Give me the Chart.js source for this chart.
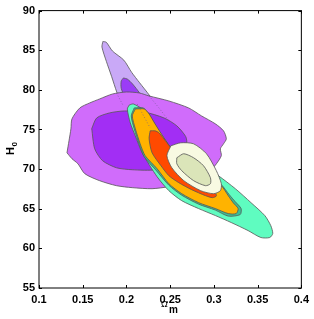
<!DOCTYPE html>
<html>
<head>
<meta charset="utf-8">
<script src="https://cdn.jsdelivr.net/npm/chart.js@4.4.0/dist/chart.umd.min.js"></script>
<style>
  html, body { margin: 0; padding: 0; background: #fff; }
</style>
</head>
<body>
<canvas id="myChart" width="314" height="319"></canvas>
<script>
(function () {
  'use strict'

// axis ticks
var xTicks = [0.1, 0.15, 0.2, 0.25, 0.3, 0.35, 0.4]
var xTickLabels = ['0.1', '0.15', '0.2', '0.25', '0.3', '0.35', '0.4']
var yTicks = [55, 60, 65, 70, 75, 80, 85, 90]

// contour outlines [Omega_m, H0]
var tailOuter = [
  [0.173, 86.1], [0.177, 86.0], [0.184, 84.9], [0.197, 83.75], [0.206, 82.2],
  [0.215, 80.9], [0.226, 79.35], [0.237, 77.6], [0.246, 75.8], [0.237, 74.8],
  [0.215, 75.5], [0.198, 77.3], [0.189, 79.7], [0.183, 81.7], [0.177, 83.6], [0.172, 85.4]
]
var tailInner = [
  [0.1965, 81.5], [0.201, 81.36], [0.207, 80.74], [0.215, 79.6], [0.22, 78.6],
  [0.209, 78.0], [0.198, 79.2], [0.194, 80.2], [0.194, 81.1]
]
// hidden part of the tail, drawn dotted
var tailRightHidden = [[0.2259, 79.23], [0.2372, 77.72], [0.2485, 76.08]]
var tailLeftHidden = [[0.1886, 79.6], [0.1965, 77.97]]
var tailMidHidden = [[0.2123, 78.22], [0.2271, 75.2]]

var blobOuter = [
  [0.132, 72.06], [0.1343, 73.57], [0.1365, 75.08], [0.1377, 76.34], [0.1467, 77.72],
  [0.158, 78.35], [0.1693, 78.85], [0.1841, 79.48], [0.200, 79.73], [0.2146, 79.61],
  [0.2259, 79.23], [0.2485, 78.6], [0.2711, 77.72], [0.2859, 76.71], [0.3017, 75.71],
  [0.311, 74.83], [0.3142, 73.82], [0.311, 73.19], [0.3074, 72.56], [0.3085, 71.7],
  [0.3029, 70.68], [0.2961, 69.8], [0.2882, 69.17], [0.2711, 68.29], [0.2485, 67.78],
  [0.2293, 67.53], [0.2067, 67.66], [0.1886, 67.91], [0.1693, 68.54], [0.1524, 69.42],
  [0.1445, 70.68], [0.1377, 71.31]
]
var blobInner = [
  [0.1603, 75.1], [0.166, 76.46], [0.1807, 77.09], [0.1976, 77.34], [0.2203, 77.2],
  [0.2429, 76.46], [0.2576, 75.46], [0.2678, 74.1], [0.2689, 73.19], [0.2632, 72.06],
  [0.2485, 70.68], [0.2338, 69.92], [0.2067, 69.92], [0.1886, 70.17], [0.1727, 71.06],
  [0.1637, 72.56]
]
var greenOuter = [
  [0.2033, 78.1], [0.2079, 78.22], [0.218, 77.59], [0.2248, 76.84], [0.2305, 75.83],
  [0.2395, 74.32], [0.2497, 72.81], [0.2825, 70.8], [0.3051, 69.17], [0.3245, 67.53],
  [0.3424, 65.77], [0.3582, 64.14], [0.365, 62.88], [0.3673, 61.88], [0.3639, 61.37],
  [0.3537, 61.37], [0.339, 62.25], [0.3198, 63.26], [0.3017, 64.14], [0.2825, 65.02],
  [0.2632, 66.02], [0.2485, 67.28], [0.235, 69.04], [0.218, 72.06], [0.2101, 74.2],
  [0.2044, 75.83], [0.201, 77.59]
]
var tealBand = [
  [0.2089, 77.72], [0.2191, 77.72], [0.2248, 77.09], [0.2316, 75.83], [0.2418, 74.07],
  [0.2531, 72.44], [0.2825, 70.55], [0.2995, 68.67], [0.3085, 68.04], [0.3175, 66.78],
  [0.3243, 65.9], [0.3311, 65.02], [0.33, 64.26], [0.3164, 64.07], [0.3017, 64.83],
  [0.2825, 65.58], [0.2632, 66.71], [0.2485, 67.97], [0.2338, 69.86], [0.2203, 71.56],
  [0.2146, 73.13], [0.2089, 75.08], [0.2055, 76.71]
]
var orangeOuter = [
  [0.2102, 77.59], [0.2203, 77.59], [0.2259, 76.96], [0.2327, 75.71], [0.2429, 73.95],
  [0.2542, 72.31], [0.2825, 70.42], [0.2995, 68.54], [0.3085, 67.91], [0.3164, 66.65],
  [0.322, 65.77], [0.3277, 65.02], [0.3254, 64.39], [0.3164, 64.39], [0.3017, 65.02],
  [0.2825, 65.77], [0.2632, 66.9], [0.2485, 68.16], [0.235, 70.05], [0.2214, 71.69],
  [0.2157, 73.19], [0.2102, 75.08], [0.2067, 76.71]
]
var redInner = [
  [0.2271, 74.83], [0.2327, 74.83], [0.2372, 74.58], [0.2463, 73.32], [0.2519, 72.56],
  [0.2768, 70.42], [0.2961, 68.29], [0.3029, 66.65], [0.2984, 66.4], [0.2904, 66.65],
  [0.2745, 67.41], [0.2598, 68.29], [0.2485, 69.17], [0.2395, 70.42], [0.2293, 72.06],
  [0.2259, 73.82]
]
var creamOuter = [
  [0.2508, 72.94], [0.2621, 73.32], [0.2768, 73.19], [0.2915, 71.94], [0.3028, 69.8],
  [0.3085, 68.16], [0.3074, 67.28], [0.2995, 66.9], [0.2849, 67.28], [0.2656, 68.54],
  [0.2519, 70.17], [0.2463, 71.69]
]
var paleInner = [
  [0.2576, 71.43], [0.2655, 71.94], [0.2768, 71.43], [0.2881, 70.43], [0.296, 68.92],
  [0.296, 68.16], [0.2904, 67.91], [0.2768, 68.54], [0.2632, 69.8], [0.2576, 70.68]
]

function toXY(arr) {
  return arr.map(function (p) { return { x: p[0], y: p[1] } })
}

function shape(arr, color, order) {
  var pts = toXY(arr)
  pts.push({ x: arr[0][0], y: arr[0][1] })
  return {
    data: pts,
    backgroundColor: color,
    borderColor: '#555',
    borderWidth: 0.8,
    fill: 'shape',
    tension: 0.25,
    pointRadius: 0,
    order: order
  }
}

function dotted(arr, order) {
  return {
    data: toXY(arr),
    borderColor: 'rgba(110,90,140,0.8)',
    borderWidth: 0.8,
    borderDash: [1, 2],
    fill: false,
    pointRadius: 0,
    order: order
  }
}

// frame with inward ticks + axis titles
var frame = {
  id: 'frame',
  afterDraw: function (chart) {
    var ctx = chart.ctx, a = chart.chartArea
    var xs = chart.scales.x, ys = chart.scales.y
    ctx.save()
    ctx.strokeStyle = '#000'
    ctx.lineWidth = 1
    ctx.strokeRect(a.left, a.top, a.right - a.left, a.bottom - a.top)
    ctx.beginPath()
    xTicks.forEach(function (v) {
      var px = Math.round(xs.getPixelForValue(v)) + 0.5
      ctx.moveTo(px, a.bottom); ctx.lineTo(px, a.bottom - 3)
      ctx.moveTo(px, a.top); ctx.lineTo(px, a.top + 3)
    })
    yTicks.forEach(function (v) {
      var py = Math.round(ys.getPixelForValue(v)) + 0.5
      ctx.moveTo(a.left, py); ctx.lineTo(a.left + 3, py)
      ctx.moveTo(a.right, py); ctx.lineTo(a.right - 3, py)
    })
    ctx.stroke()

    ctx.fillStyle = '#000'
    ctx.textBaseline = 'alphabetic'
    // H0
    ctx.save()
    ctx.translate(14, 155)
    ctx.rotate(-Math.PI / 2)
    ctx.font = 'bold 11px "Liberation Sans", Arial, sans-serif'
    ctx.fillText('H', 0, 0)
    ctx.font = 'bold 8px "Liberation Sans", Arial, sans-serif'
    ctx.fillText('0', 8.5, 3)
    ctx.restore()
    // Omega_m
    ctx.font = '9px "Liberation Sans", Arial, sans-serif'
    ctx.fillText('\u03A9', 161, 307)
    ctx.font = 'bold 10px "Liberation Sans", Arial, sans-serif'
    ctx.fillText('m', 169, 313)
    ctx.restore()
  }
}

const ctx = document.getElementById('myChart').getContext('2d')

new Chart(ctx, {
  type: 'line',
  data: {
    datasets: [
      shape(tailOuter, '#c9a9f7', 10),
      shape(tailInner, '#9b3cf6', 9),
      shape(blobOuter, '#d06cfb', 8),
      shape(blobInner, '#a22ef4', 7),
      dotted(tailRightHidden, 6.5),
      dotted(tailLeftHidden, 6.5),
      shape(greenOuter, '#5ffcc0', 6),
      shape(tealBand, '#3cbf94', 5),
      shape(orangeOuter, '#ffb300', 4),
      dotted(tailMidHidden, 3.5),
      shape(redInner, '#ff4a00', 3),
      shape(creamOuter, '#f8fae2', 2),
      shape(paleInner, '#dbe5b9', 1)
    ]
  },
  options: {
    responsive: false,
    animation: false,
    devicePixelRatio: 1,
    layout: { padding: { top: 9, right: 10, left: 0, bottom: 0 } },
    plugins: { legend: { display: false }, tooltip: { enabled: false } },
    scales: {
      x: {
        type: 'linear',
        min: 0.1,
        max: 0.4,
        afterBuildTicks: function (s) { s.ticks = xTicks.map(function (v) { return { value: v } }) },
        afterFit: function (s) { s.height = 31 },
        grid: { display: false, drawTicks: false },
        border: { display: false },
        ticks: {
          padding: 5,
          maxRotation: 0,
          autoSkip: false,
          color: '#000',
          font: { family: '"Liberation Sans", Arial, sans-serif', size: 11, weight: 'bold' },
          callback: function (v, i) { return xTickLabels[i] }
        }
      },
      y: {
        type: 'linear',
        min: 55,
        max: 90,
        afterBuildTicks: function (s) { s.ticks = yTicks.map(function (v) { return { value: v } }) },
        afterFit: function (s) { s.width = 39 },
        grid: { display: false, drawTicks: false },
        border: { display: false },
        ticks: {
          padding: 4,
          autoSkip: false,
          color: '#000',
          font: { family: '"Liberation Sans", Arial, sans-serif', size: 11, weight: 'bold' },
          callback: function (v) { return String(v) }
        }
      }
    }
  },
  plugins: [frame]
})

})()
</script>
</body>
</html>
